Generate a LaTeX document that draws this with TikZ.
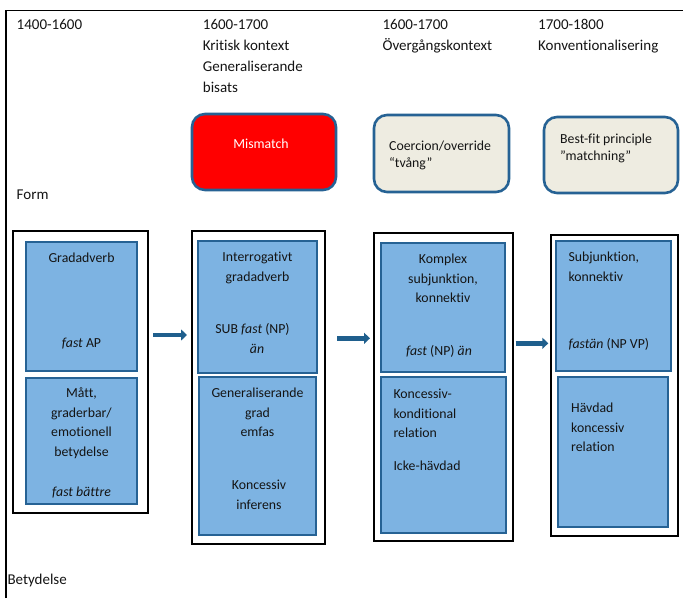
\documentclass[tikz,border=0pt]{standalone}
\usepackage{fontspec}
\setmainfont{Carlito}[Ligatures={NoCommon,NoContextual,NoRequired}]
\usetikzlibrary{arrows.meta}
\definecolor{boxblue}{RGB}{125,179,226}
\definecolor{edgeblue}{RGB}{38,98,148}
\definecolor{arrowblue}{RGB}{31,95,141}
\definecolor{beige}{RGB}{238,236,225}
\definecolor{inkblack}{RGB}{20,20,20}
\newcommand\boxfont{\fontsize{13.8}{19.6}\selectfont}
\newcommand\hdfont{\fontsize{15}{21}\selectfont}
\newcommand\tagfont{\fontsize{13.8}{17}\selectfont}
\begin{document}
\begin{tikzpicture}[x=1pt,y=-1pt,
 outerbox/.style={draw=black, line width=2pt, inner sep=0pt, outer sep=0pt, anchor=north west},
 innerbox/.style={draw=edgeblue, fill=boxblue, line width=2.2pt, inner sep=0pt, outer sep=0pt, anchor=north west},
 tagbox/.style={draw=edgeblue, line width=2.6pt, rounded corners=13pt, inner sep=0pt, outer sep=0pt, anchor=north west},
 ctxt/.style={inner sep=0pt, font=\boxfont, align=center, anchor=north, text=inkblack},
 ltxt/.style={inner sep=0pt, font=\boxfont, align=left, anchor=north west, text=inkblack},
 htxt/.style={inner sep=0pt, font=\hdfont, align=left, anchor=north west, text=inkblack},
 ttxt/.style={inner sep=0pt, font=\tagfont, align=left, anchor=north west, text=inkblack},
 arr/.style={draw=arrowblue, line width=4.7pt, -{Triangle[length=6pt,width=11pt]}}
]
\useasboundingbox (0,0) rectangle (683,598);
% frame
\draw[line width=1.3pt] (6,598) -- (6,10.5) -- (683,10.5);

% header
\node[htxt] (h1) at (16.5,15) {\strut 1400-1600};
\node[htxt] (h2) at (202.7,15) {\strut 1600-1700\\Kritisk kontext\\Generaliserande\\bisats};
\node[htxt] (h3) at (382.4,15) {\strut 1600-1700\\Övergångskontext};
\node[htxt] (h4) at (538,15) {\strut 1700-1800\\Konventionalisering};
\node[htxt] (form) at (16.5,184.3) {\strut Form};
\node[htxt] (bet) at (7.3,570) {\strut Betydelse};

% top rounded boxes
\node[tagbox, fill=red, minimum width=144pt, minimum height=76pt] (mm) at (192,114) {};
\node[ctxt, text=white] (mmt) at (261,134.6) {\strut Mismatch};
\node[tagbox, fill=beige, minimum width=135pt, minimum height=77pt] (co) at (374,115) {};
\node[ttxt] (cot) at (389,138.4) {\strut Coercion/override\\“tvång”};
\node[tagbox, fill=beige, minimum width=134pt, minimum height=76pt] (bf) at (544,117) {};
\node[ttxt] (bft) at (560,131.4) {\strut Best-fit principle\\”matchning”};

% outer column boxes
\node[outerbox, minimum width=135pt, minimum height=282pt] (c1) at (13,231) {};
\node[outerbox, minimum width=133pt, minimum height=313pt] (c2) at (192,231) {};
\node[outerbox, minimum width=139pt, minimum height=308pt] (c3) at (374,233) {};
\node[outerbox, minimum width=127pt, minimum height=301pt] (c4) at (551,235) {};

% inner boxes
\node[innerbox, minimum width=111pt, minimum height=129pt] (c1t) at (26,242) {};
\node[innerbox, minimum width=111pt, minimum height=126pt] (c1b) at (26,378) {};
\node[innerbox, minimum width=119pt, minimum height=132pt] (c2t) at (198,241) {};
\node[innerbox, minimum width=117pt, minimum height=158pt] (c2b) at (199,377) {};
\node[innerbox, minimum width=124pt, minimum height=129pt] (c3t) at (381,243) {};
\node[innerbox, minimum width=125pt, minimum height=156pt] (c3b) at (381,377) {};
\node[innerbox, minimum width=115pt, minimum height=130pt] (c4t) at (556,241) {};
\node[innerbox, minimum width=110pt, minimum height=150pt] (c4b) at (558,377) {};

% texts column 1
\node[ctxt] (t1a) at (81.5,248.6) {\strut Gradadverb};
\node[ctxt] (t1b) at (81.5,333.6) {\strut\textit{fast} AP};
\node[ctxt] (t1c) at (81.5,383.6) {\strut Mått,\\graderbar/\\emotionell\\betydelse};
\node[ctxt] (t1d) at (81.5,482.6) {\strut\textit{fast bättre}};

% texts column 2
\node[ctxt] (t2a) at (257.5,247.6) {\strut Interrogativt\\gradadverb};
\node[ctxt] (t2b) at (252.5,319.6) {\strut SUB \textit{fast} (NP)};
\node[ctxt] (t2c) at (257,339.6) {\strut\textit{än}};
\node[ctxt] (t2d) at (257.5,383.6) {\strut Generaliserande\\grad\\emfas};
\node[ctxt] (t2e) at (259,475.6) {\strut Koncessiv\\inferens};

% texts column 3
\node[ctxt] (t3a) at (443,249.6) {\strut Komplex\\subjunktion,\\konnektiv};
\node[ctxt] (t3b) at (439,341.6) {\strut\textit{fast} (NP) \textit{än}};
\node[ltxt] (t3c) at (393.3,384.6) {\strut Koncessiv-\\konditional\\relation};
\node[ltxt] (t3d) at (393.3,456.6) {\strut Icke-hävdad};

% texts column 4
\node[ltxt] (t4a) at (568.3,247.6) {\strut Subjunktion,\\konnektiv};
\node[ltxt] (t4b) at (568.3,334.6) {\strut\textit{fastän} (NP VP)};
\node[ltxt] (t4c) at (571,398.6) {\strut Hävdad\\koncessiv\\relation};

% arrows
\coordinate (y1) at (0,335);
\coordinate (y2) at (0,338.3);
\coordinate (y3) at (0,343.3);
\draw[arr, shorten <=5pt, shorten >=5pt] (c1.east |- y1) -- (c2.west |- y1);
\draw[arr, shorten <=12pt, shorten >=4pt] (c2.east |- y2) -- (c3.west |- y2);
\draw[arr, shorten <=2.7pt, shorten >=2.7pt] (c3.east |- y3) -- (c4.west |- y3);
\end{tikzpicture}
\end{document}
